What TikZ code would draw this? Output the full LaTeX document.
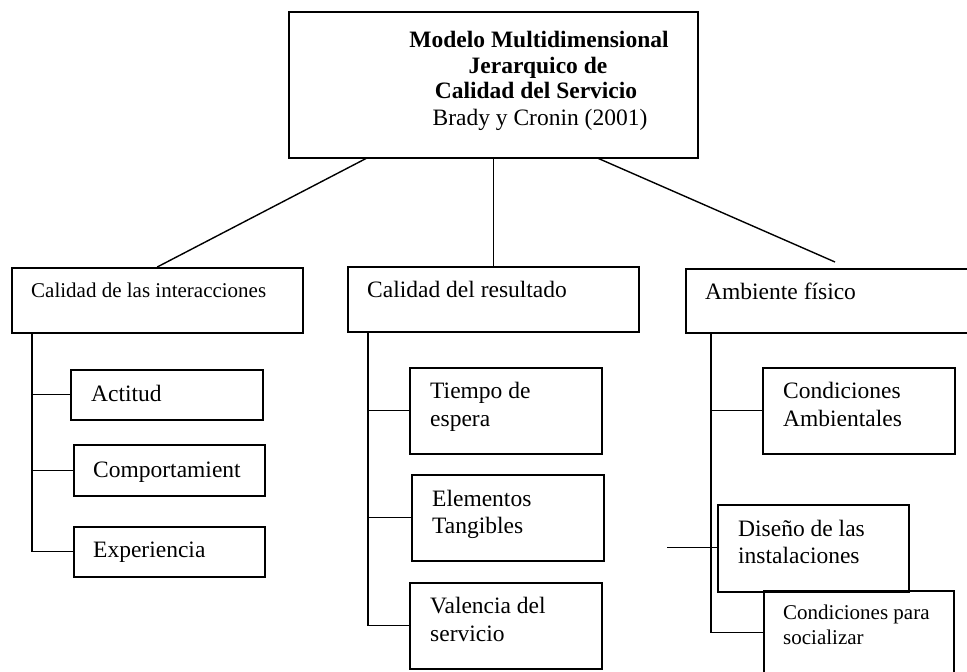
\documentclass[tikz,border=0pt]{standalone}
\usepackage{fontspec}
\setmainfont{Liberation Serif}
\begin{document}
\begin{tikzpicture}[x=1pt,y=-1pt,
  box/.style={draw, line width=1.5pt, inner sep=0pt, anchor=north west},
  link/.style={line width=1.4pt},
  txt/.style={inner sep=0pt, anchor=base west, font=\fontsize{23.5}{27}\selectfont},
  txtsm/.style={inner sep=0pt, anchor=base west, font=\fontsize{21}{25}\selectfont},
  ttl/.style={inner sep=0pt, anchor=base, font=\fontsize{23.5}{27}\selectfont},
  ttlb/.style={ttl, font=\fontsize{23.5}{27}\selectfont\bfseries}]
\useasboundingbox (0,0) rectangle (967,672);
\clip (0,0) rectangle (967,672);

% root box
\node[box, minimum width=409pt, minimum height=146pt] (root) at (288,11) {};
\node[ttlb] (t1) at (539,47) {Modelo Multidimensional};
\node[ttlb] (t2) at (538,73) {Jerarquico de};
\node[ttlb] (t3) at (536,98) {Calidad del Servicio};
\node[ttl] (t4) at (540,125) {Brady y Cronin (2001)};

% second level boxes
\node[box, minimum width=291pt, minimum height=65pt] (inter) at (11,267) {};
\node[txtsm] (interT) at (31,297) {Calidad de las interacciones};
\node[box, minimum width=291pt, minimum height=65pt] (res) at (347,266) {};
\node[txt] (resT) at (367,297) {Calidad del resultado};
\node[box, minimum width=320pt, minimum height=64pt] (amb) at (685,268) {};
\node[txt] (ambT) at (705,299) {Ambiente físico};

% links from the root
\draw[link] ([xshift=78pt]root.south west) -- (inter.north);
\draw[link] (root.south) -- (res.north);
\coordinate (ambtop) at (835,262);
\draw[link] ([xshift=-100pt]root.south east) -- (ambtop);

% interacciones
\node[box, minimum width=192pt, minimum height=50pt] (act) at (70,369) {};
\node[txt] (actT) at (91,401) {Actitud};
\node[box, minimum width=191pt, minimum height=51pt] (comp) at (73,444) {};
\node[txt] (compT) at (93,477) {Comportamient};
\node[box, minimum width=191pt, minimum height=50pt] (exp) at (73,526) {};
\node[txt] (expT) at (93,557) {Experiencia};
\draw[link] ([xshift=21pt]inter.south west) |- (act.west);
\draw[link] ([xshift=21pt]inter.south west) |- (comp.west);
\draw[link] ([xshift=21pt]inter.south west) |- (exp.west);

% resultado
\node[box, minimum width=192pt, minimum height=86pt] (tie) at (409,367) {};
\node[txt] (tieA) at (430,398) {Tiempo de};
\node[txt] (tieB) at (430,426) {espera};
\node[box, minimum width=192pt, minimum height=86pt] (ele) at (411,474) {};
\node[txt] (eleA) at (432,506) {Elementos};
\node[txt] (eleB) at (432,533) {Tangibles};
\node[box, minimum width=192pt, minimum height=86pt] (val) at (409,582) {};
\node[txt] (valA) at (430,613) {Valencia del};
\node[txt] (valB) at (430,641) {servicio};
\draw[link] ([xshift=21pt]res.south west) |- (tie.west);
\draw[link] ([xshift=21pt]res.south west) |- (ele.west);
\draw[link] ([xshift=21pt]res.south west) |- (val.west);

% ambiente
\node[box, minimum width=192pt, minimum height=86pt] (cam) at (762,367) {};
\node[txt] (camA) at (783,398) {Condiciones};
\node[txt] (camB) at (783,426) {Ambientales};
\node[box, minimum width=191pt, minimum height=87pt] (dis) at (717,504) {};
\node[txt] (disA) at (738,536) {Diseño de las};
\node[txt] (disB) at (738,563) {instalaciones};
\node[box, minimum width=190pt, minimum height=84pt] (soc) at (763,590) {};
\node[txtsm] (socA) at (783,619) {Condiciones para};
\node[txtsm] (socB) at (783,644) {socializar};
\draw[link] ([xshift=26pt]amb.south west) |- (cam.west);
\draw[link] ([xshift=26pt]amb.south west) |- (soc.west);
\coordinate (disleft) at (667,547.5);
\draw[link] (disleft) -- (disleft -| dis.west);
\end{tikzpicture}
\end{document}
